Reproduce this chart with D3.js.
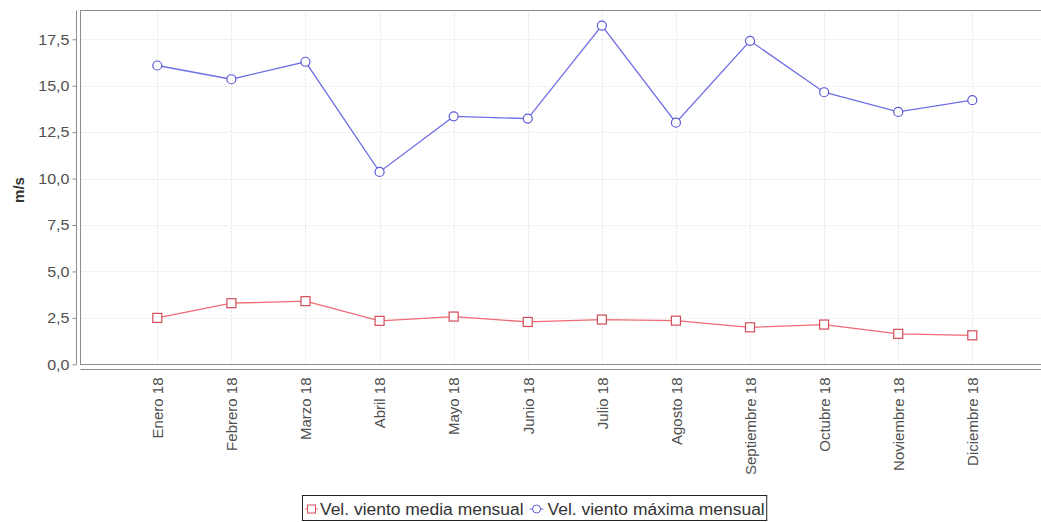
<!DOCTYPE html>
<html><head><meta charset="utf-8">
<script src="https://cdn.jsdelivr.net/npm/d3@7"></script>
<style>
html,body{margin:0;padding:0;background:#fff;}
svg{display:block;font-family:"Liberation Sans",Arial,sans-serif;}
</style></head>
<body>
<svg id="chart" width="1041" height="522"></svg>
<script>
const categories = ["Enero 18","Febrero 18","Marzo 18","Abril 18","Mayo 18","Junio 18","Julio 18","Agosto 18","Septiembre 18","Octubre 18","Noviembre 18","Diciembre 18"];
const mediaMensual = [2.50,3.29,3.40,2.34,2.57,2.28,2.41,2.35,1.99,2.14,1.64,1.56];
const maximaMensual = [16.09,15.35,16.29,10.36,13.35,13.23,18.24,13.01,17.42,14.65,13.59,14.22];
const yTicks = [0,2.5,5,7.5,10,12.5,15,17.5];
const seriesNames = ["Vel. viento media mensual","Vel. viento máxima mensual"];
const yTitle = "m/s";

const svg = d3.select("#chart");
const plot = {left:80.5, top:10.5, right:1050, bottom:364.5};
const x = d3.scalePoint().domain(categories).range([157.3,972.3]);
const y = d3.scaleLinear().domain([0,17.5]).range([364.3,39.3]);
const fmt = v => d3.format(".1f")(v).replace(".",",");
function widen(sel, k){ let tot=0; sel.each(function(){ const w=this.getComputedTextLength()*k; tot=w; d3.select(this).attr("textLength",w).attr("lengthAdjust","spacingAndGlyphs"); }); return tot; }

// gridlines
svg.append("g").selectAll("line").data(yTicks.filter(d=>d>0)).join("line")
  .attr("x1",plot.left).attr("x2",plot.right)
  .attr("y1",d=>Math.round(y(d))+0.5).attr("y2",d=>Math.round(y(d))+0.5)
  .attr("stroke","#e4e4e4").attr("stroke-dasharray","2,2");
svg.append("g").selectAll("line").data(categories).join("line")
  .attr("x1",d=>Math.round(x(d))+0.5).attr("x2",d=>Math.round(x(d))+0.5)
  .attr("y1",plot.top).attr("y2",plot.bottom)
  .attr("stroke","#e4e4e4").attr("stroke-dasharray","2,2");

// plot outline
svg.append("rect").attr("x",plot.left).attr("y",plot.top)
  .attr("width",plot.right-plot.left).attr("height",plot.bottom-plot.top)
  .attr("fill","none").attr("stroke","#8c8c8c");

// y axis
const yAxis = d3.axisLeft(y).tickValues(yTicks).tickFormat(fmt).tickSize(4).tickPadding(3);
const gy = svg.append("g").attr("transform","translate(76.5,0)").call(yAxis);
gy.select(".domain").attr("d",`M0,${plot.top}V${plot.bottom}`).attr("stroke","#8c8c8c");
gy.selectAll(".tick line").attr("stroke","#8c8c8c");
gy.selectAll(".tick text").attr("fill","#505050").style("font-size","15px").style("font-family","Liberation Sans, Arial, sans-serif");
widen(gy.selectAll(".tick text"), 1.07);

// x axis
const xAxis = d3.axisBottom(x).tickSize(0).tickPadding(0);
const gx = svg.append("g").attr("transform","translate(0,369.5)").call(xAxis);
gx.select(".domain").attr("d",`M${plot.left},0H${plot.right}`).attr("stroke","#8c8c8c");
gx.selectAll(".tick text")
  .attr("transform","rotate(-90)").attr("x",-8).attr("y",0).attr("dy","0.35em")
  .attr("text-anchor","end").attr("fill","#505050")
  .style("font-size","15px").style("font-family","Liberation Sans, Arial, sans-serif");

// y title
svg.append("text").attr("transform","translate(19,190) rotate(-90)")
  .attr("text-anchor","middle").attr("dy","0.35em")
  .attr("font-weight","bold").attr("font-size","15px").attr("fill","#333").text(yTitle);

// series
const line = d3.line().x((d,i)=>x(categories[i])).y(d=>y(d));
const cRed="#ef6a74", cRedM="#d24c5a", cBlue="#6f6fe6", cBlueM="#5a5ad4";
svg.append("path").datum(mediaMensual).attr("d",line).attr("fill","none").attr("stroke",cRed).attr("stroke-width",1.3);
svg.append("path").datum(maximaMensual).attr("d",line).attr("fill","none").attr("stroke",cBlue).attr("stroke-width",1.3);
svg.append("g").selectAll("rect").data(mediaMensual).join("rect")
  .attr("x",(d,i)=>x(categories[i])-4.5).attr("y",d=>y(d)-4.5)
  .attr("width",9).attr("height",9).attr("fill","#fff").attr("stroke",cRedM).attr("stroke-width",1.2);
svg.append("g").selectAll("circle").data(maximaMensual).join("circle")
  .attr("cx",(d,i)=>x(categories[i])).attr("cy",d=>y(d)).attr("r",4.5)
  .attr("fill","#fff").attr("stroke",cBlueM).attr("stroke-width",1.2);

// legend
const lg = svg.append("g");
const box = lg.append("rect").attr("fill","#fff").attr("stroke","#222");
const ly = 509;
let cx = 305;
const t1x = cx+15;
lg.append("line").attr("x1",cx).attr("x2",cx+13).attr("y1",ly).attr("y2",ly).attr("stroke",cRed);
lg.append("rect").attr("x",cx+2.5).attr("y",ly-4).attr("width",8).attr("height",8).attr("fill","#fff").attr("stroke",cRedM);
const t1 = lg.append("text").attr("x",t1x).attr("y",ly).attr("dy","0.35em").attr("font-size","16px").attr("fill","#333").text(seriesNames[0]);
const w1 = widen(t1, 1.09);
cx = t1x + w1 + 6;
lg.append("line").attr("x1",cx).attr("x2",cx+14).attr("y1",ly).attr("y2",ly).attr("stroke",cBlue);
lg.append("circle").attr("cx",cx+7).attr("cy",ly).attr("r",4).attr("fill","#fff").attr("stroke",cBlueM);
const t2 = lg.append("text").attr("x",cx+18).attr("y",ly).attr("dy","0.35em").attr("font-size","16px").attr("fill","#333").text(seriesNames[1]);
const w2 = widen(t2, 1.09);
const right = cx+18+w2+2;
box.attr("x",302.5).attr("y",495.5).attr("width",right-302.5).attr("height",25);
</script>
</body></html>
